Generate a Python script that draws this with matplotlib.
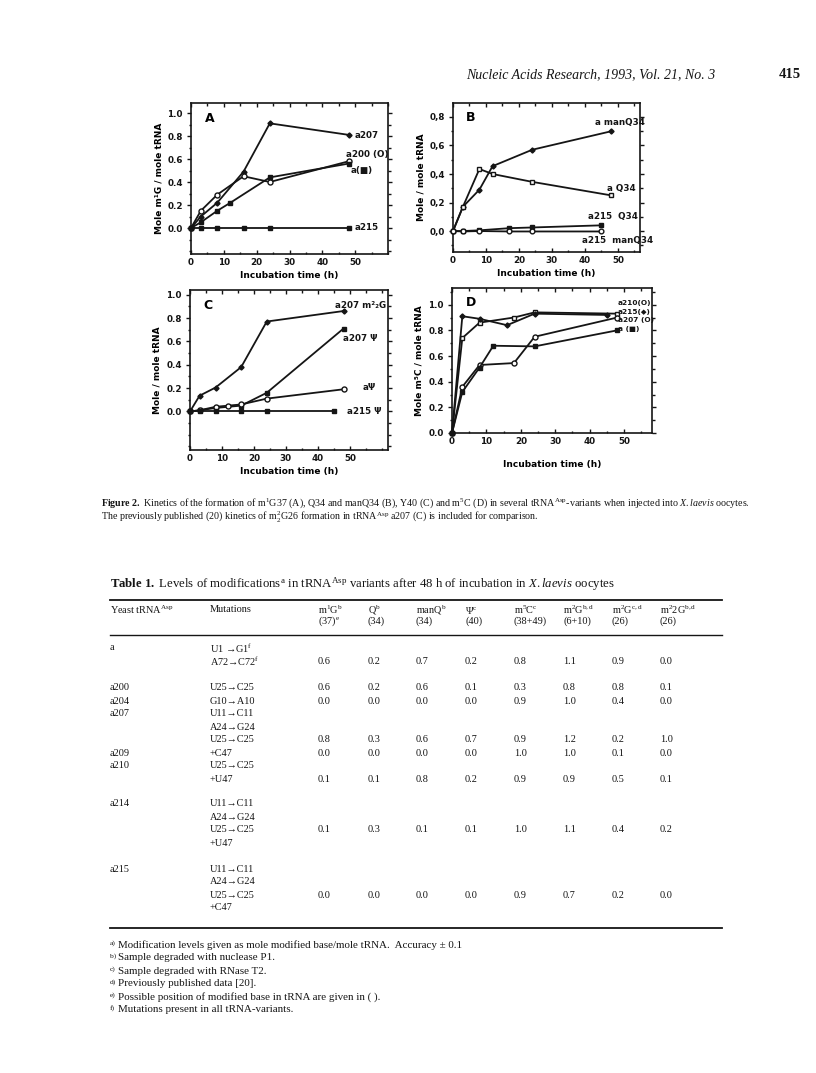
import matplotlib.pyplot as plt
import matplotlib.ticker as mticker

W, H = 816, 1073

plt.rcParams['font.family'] = ['DejaVu Sans']
plt.rcParams['mathtext.fontset'] = 'custom'
plt.rcParams['mathtext.rm'] = 'Liberation Serif'
plt.rcParams['mathtext.it'] = 'Liberation Serif:italic'
plt.rcParams['mathtext.bf'] = 'Liberation Serif:bold'

INK = '#151515'

# ---- panel A: m1G37 ----
a207_t = [0, 3, 8, 16, 24, 48]
a207_v = [0, 0.10, 0.22, 0.49, 0.91, 0.81]
a200_t = [0, 3, 8, 16, 24, 48]
a200_v = [0, 0.15, 0.29, 0.45, 0.40, 0.58]
aA_t = [0, 3, 8, 12, 24, 48]
aA_v = [0, 0.05, 0.15, 0.22, 0.44, 0.56]
a215A_t = [0, 3, 8, 16, 24, 48]
a215A_v = [0, 0, 0, 0, 0, 0]

# ---- panel B: Q34 / manQ34 ----
manq_t = [0, 3, 8, 12, 24, 48]
manq_v = [0, 0.17, 0.29, 0.455, 0.57, 0.70]
q_t = [0, 3, 8, 12, 24, 48]
q_v = [0, 0.17, 0.435, 0.40, 0.345, 0.25]
a215q_t = [0, 3, 8, 17, 24, 45]
a215q_v = [0, 0.0, 0.005, 0.02, 0.025, 0.04]
a215manq_t = [0, 3, 8, 17, 24, 45]
a215manq_v = [0, -0.003, 0, -0.003, -0.003, -0.003]

# ---- panel C: psi40 and m22G ----
m22g_t = [0, 3, 8, 16, 24, 48]
m22g_v = [0, 0.135, 0.205, 0.38, 0.77, 0.86]
a207psi_t = [0, 3, 8, 16, 24, 48]
a207psi_v = [0, 0.01, 0.03, 0.05, 0.16, 0.71]
apsi_t = [0, 3, 8, 12, 16, 24, 48]
apsi_v = [0, 0.01, 0.04, 0.05, 0.06, 0.11, 0.19]
a215psi_t = [0, 3, 8, 16, 24, 45]
a215psi_v = [0, 0, 0, 0, 0, 0]

# ---- panel D: m5C ----
a210D_t = [0, 3, 8, 18, 24, 48]
a210D_v = [0, 0.74, 0.86, 0.90, 0.94, 0.93]
a215D_t = [0, 3, 8, 16, 24, 45]
a215D_v = [0, 0.91, 0.89, 0.84, 0.93, 0.92]
a207D_t = [0, 3, 8, 18, 24, 48]
a207D_v = [0, 0.36, 0.53, 0.545, 0.75, 0.90]
aD_t = [0, 3, 8, 12, 24, 48]
aD_v = [0, 0.32, 0.51, 0.68, 0.675, 0.80]

# ---- Table 1 ----
variants = ['a', 'a200', 'a204', 'a207', 'a209', 'a210', 'a214', 'a215']
mutations = [
    [r'U1 →G1$^{\mathrm{f}}$', r'A72→C72$^{\mathrm{f}}$'],
    ['U25→C25'],
    ['G10→A10'],
    ['U11→C11', 'A24→G24', 'U25→C25'],
    ['+C47'],
    ['U25→C25', '+U47'],
    ['U11→C11', 'A24→G24', 'U25→C25', '+U47'],
    ['U11→C11', 'A24→G24', 'U25→C25', '+C47'],
]
value_line = [1, 0, 0, 2, 0, 1, 2, 2]
levels = [
    [0.6, 0.2, 0.7, 0.2, 0.8, 1.1, 0.9, 0.0],
    [0.6, 0.2, 0.6, 0.1, 0.3, 0.8, 0.8, 0.1],
    [0.0, 0.0, 0.0, 0.0, 0.9, 1.0, 0.4, 0.0],
    [0.8, 0.3, 0.6, 0.7, 0.9, 1.2, 0.2, 1.0],
    [0.0, 0.0, 0.0, 0.0, 1.0, 1.0, 0.1, 0.0],
    [0.1, 0.1, 0.8, 0.2, 0.9, 0.9, 0.5, 0.1],
    [0.1, 0.3, 0.1, 0.1, 1.0, 1.1, 0.4, 0.2],
    [0.0, 0.0, 0.0, 0.0, 0.9, 0.7, 0.2, 0.0],
]
head1 = [r'm$^1$G$^{\mathrm{b}}$', r'Q$^{\mathrm{b}}$', r'manQ$^{\mathrm{b}}$', r'Ψ$^{\mathrm{c}}$',
         r'm$^5$C$^{\mathrm{c}}$', r'm$^2$G$^{\mathrm{b,d}}$', r'm$^2$G$^{\mathrm{c,d}}$',
         r'm$^2$2G$^{\mathrm{b,d}}$']
head2 = [r'(37)$^{\mathrm{e}}$', '(34)', '(34)', '(40)', '(38+49)', '(6+10)', '(26)', '(26)']
foot_keys = ['a)', 'b)', 'c)', 'd)', 'e)', 'f)']
foot_texts = [
    'Modification levels given as mole modified base/mole tRNA.  Accuracy ± 0.1',
    'Sample degraded with nuclease P1.',
    'Sample degraded with RNase T2.',
    'Previously published data [20].',
    'Possible position of modified base in tRNA are given in ( ).',
    'Mutations present in all tRNA-variants.',
]

fig = plt.figure(figsize=(W / 100, H / 100), dpi=100)
fig.patch.set_facecolor('white')


def T(x, y, s, **kw):
    kw.setdefault('va', 'center')
    kw.setdefault('color', INK)
    return fig.text(x / W, 1 - y / H, s, **kw)


def panel(x0, y0, x1, y1):
    ax = fig.add_axes([x0 / W, 1 - y1 / H, (x1 - x0) / W, (y1 - y0) / H])
    for s in ax.spines.values():
        s.set_linewidth(1.2)
        s.set_color(INK)
    ax.tick_params(which='both', direction='in', top=True, right=True,
                   labelsize=6.3, colors=INK, width=1.0, length=3, pad=3)
    ax.tick_params(axis='y', which='both', direction='out')
    ax.tick_params(which='minor', length=1.8)
    return ax


def series(ax, t, v, marker, filled=True, ms=3.2):
    ax.plot(t, v, color=INK, lw=1.3, marker=marker, ms=ms, mew=1.0,
            mfc=INK if filled else 'white', mec=INK, clip_on=False, zorder=3)


def finish(ax, xmax, ylo, yhi, yticks, comma=False):
    ax.set_xlim(0, xmax)
    ax.set_ylim(ylo, yhi)
    ax.set_xticks([0, 10, 20, 30, 40, 50])
    ax.xaxis.set_minor_locator(mticker.MultipleLocator(5))
    ax.set_yticks(yticks)
    ax.yaxis.set_minor_locator(mticker.MultipleLocator(0.1))
    if comma:
        fmt = lambda v, p: f'{v:.1f}'.replace('.', ',')
    else:
        fmt = lambda v, p: f'{v:.1f}'
    ax.yaxis.set_major_formatter(mticker.FuncFormatter(fmt))
    for lab in ax.get_xticklabels() + ax.get_yticklabels():
        lab.set_fontweight('bold')


lab_kw = dict(fontsize=6.3, fontweight='bold')
axis_kw = dict(fontsize=6.5, fontweight='bold')

# Panel A
axA = panel(191, 103, 388, 254)
series(axA, a207_t, a207_v, 'D', ms=2.6)
series(axA, a200_t, a200_v, 'o', filled=False, ms=3.6)
series(axA, aA_t, aA_v, 's', ms=3.0)
series(axA, a215A_t, a215A_v, 's', ms=3.0)
finish(axA, 60, -0.226, 1.087, [0, 0.2, 0.4, 0.6, 0.8, 1.0])
axA.set_xlabel('Incubation time (h)', labelpad=3, **axis_kw)
axA.set_ylabel('Mole m¹G / mole tRNA', labelpad=3, **axis_kw)
axA.text(0.07, 0.9, 'A', transform=axA.transAxes, fontsize=9, fontweight='bold', va='center')
T(355, 136, 'a207', **lab_kw)
T(346, 155, 'a200 (O)', **lab_kw)
T(351, 170, 'a(■)', **lab_kw)
T(355, 228, 'a215', **lab_kw)

# Panel B
axB = panel(453, 103, 640, 252)
series(axB, manq_t, manq_v, 'D', ms=2.6)
series(axB, q_t, q_v, 's', filled=False, ms=3.4)
series(axB, a215q_t, a215q_v, 's', ms=3.0)
series(axB, a215manq_t, a215manq_v, 'o', filled=False, ms=3.4)
finish(axB, 56.7, -0.147, 0.898, [0, 0.2, 0.4, 0.6, 0.8], comma=True)
axB.set_xlabel('Incubation time (h)', labelpad=3, **axis_kw)
axB.set_ylabel('Mole / mole tRNA', labelpad=3, **axis_kw)
axB.text(0.07, 0.9, 'B', transform=axB.transAxes, fontsize=9, fontweight='bold', va='center')
T(595, 123, 'a manQ34', **lab_kw)
T(607, 188, 'a Q34', **lab_kw)
T(588, 217, 'a215  Q34', **lab_kw)
T(582, 240, 'a215  manQ34', **lab_kw)

# Panel C
axC = panel(190, 290, 388, 450)
series(axC, m22g_t, m22g_v, 'D', ms=2.6)
series(axC, a207psi_t, a207psi_v, 's', ms=3.0)
series(axC, apsi_t, apsi_v, 'o', filled=False, ms=3.6)
series(axC, a215psi_t, a215psi_v, 's', ms=3.0)
finish(axC, 61.9, -0.33, 1.04, [0, 0.2, 0.4, 0.6, 0.8, 1.0])
axC.set_xlabel('Incubation time (h)', labelpad=3, **axis_kw)
axC.set_ylabel('Mole / mole tRNA', labelpad=3, **axis_kw)
axC.text(0.07, 0.9, 'C', transform=axC.transAxes, fontsize=9, fontweight='bold', va='center')
T(335, 305, 'a207 m²₂G', **lab_kw)
T(343, 339, 'a207 Ψ', **lab_kw)
T(363, 388, 'aΨ', **lab_kw)
T(347, 412, 'a215 Ψ', **lab_kw)

# Panel D
axD = panel(452, 288, 652, 433)
series(axD, a210D_t, a210D_v, 's', filled=False, ms=3.4)
series(axD, a215D_t, a215D_v, 'D', ms=2.6)
series(axD, a207D_t, a207D_v, 'o', filled=False, ms=3.6)
series(axD, aD_t, aD_v, 's', ms=3.0)
finish(axD, 58.1, 0, 1.13, [0, 0.2, 0.4, 0.6, 0.8, 1.0])
axD.set_xlabel('Incubation time (h)', labelpad=10, **axis_kw)
axD.set_ylabel('Mole m⁵C / mole tRNA', labelpad=3, **axis_kw)
axD.text(0.07, 0.9, 'D', transform=axD.transAxes, fontsize=9, fontweight='bold', va='center')
small = dict(fontsize=5.3, fontweight='bold')
T(618, 303, 'a210(O)', **small)
T(618, 312, 'a215(◆)', **small)
T(618, 320, 'a207 (O)', **small)
T(618, 329, 'a (■)', **small)

# page header
serif = dict(family='Liberation Serif')
T(466, 75, 'Nucleic Acids Research, 1993, Vol. 21, No. 3', fontsize=10, fontstyle='italic', **serif)
T(779, 75, '415', fontsize=10.5, fontweight='bold', **serif)

# figure caption
cap = dict(fontsize=7.2, **serif)
T(101, 503, r'$\mathbf{Figure\ 2.}$ Kinetics of the formation of m$^1$G37 (A), Q34 and manQ34 (B), '
            r'Y40 (C) and m$^5$C (D) in several tRNA$^{\mathrm{Asp}}$-variants when injected into '
            r'$\mathit{X.laevis}$ oocytes.', **cap)
T(101, 517, r'The previously published (20) kinetics of m$^2_2$G26 formation in tRNA$^{\mathrm{Asp}}$ '
            r'a207 (C) is included for comparison.', **cap)

# table
T(110, 584, r'$\mathbf{Table\ 1.}$ Levels of modifications$^{\mathrm{a}}$ in tRNA$^{\mathrm{Asp}}$ variants '
            r'after 48 h of incubation in $\mathit{X.laevis}$ oocytes', fontsize=9.2, **serif)
x_rule = [110 / W, 722 / W]
for yy, lw in [(600, 1.3), (635, 1.0), (928, 1.3)]:
    fig.add_artist(plt.Line2D(x_rule, [1 - yy / H] * 2, color=INK, lw=lw))

col_x = [318, 368, 416, 465, 514, 563, 612, 660]
tab = dict(fontsize=7.4, **serif)
T(110, 610, r'Yeast tRNA$^{\mathrm{Asp}}$', **tab)
T(210, 610, 'Mutations', **tab)
for x, h1, h2 in zip(col_x, head1, head2):
    T(x, 610, h1, **tab)
    T(x, 621, h2, **tab)

row_y = [648, 688, 701, 714, 753, 766, 804, 869]
dy = 13
for name, muts, vl, vals, y0 in zip(variants, mutations, value_line, levels, row_y):
    T(110, y0, name, **tab)
    for k, m in enumerate(muts):
        T(210, y0 + k * dy, m, **tab)
    for x, v in zip(col_x, vals):
        T(x, y0 + vl * dy, f'{v:.1f}', **tab)

for k, (key, fn) in enumerate(zip(foot_keys, foot_texts)):
    y = 945 + k * 13
    T(110, y - 2, key, fontsize=5.4, **serif)
    T(118, y, fn, fontsize=7.9, **serif)

fig.savefig('out.png', dpi=100, facecolor='white')
